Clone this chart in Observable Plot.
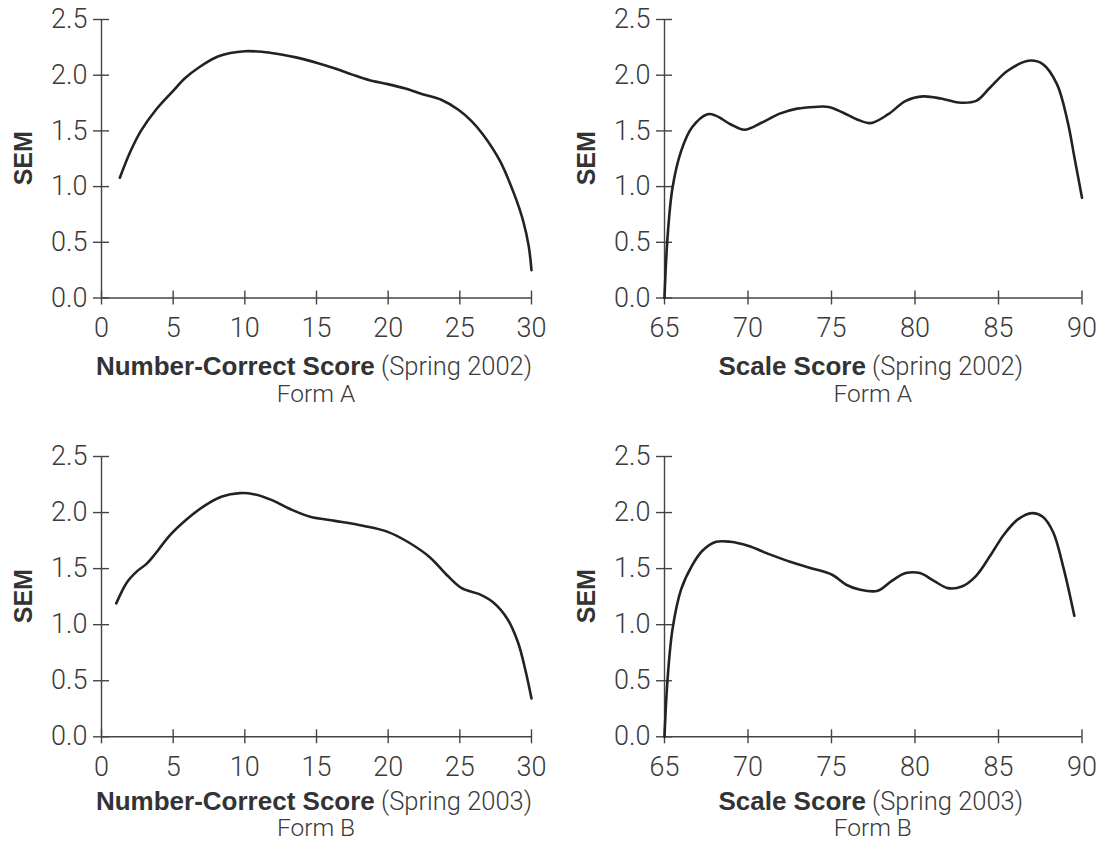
<!DOCTYPE html>
<html>
<head>
<meta charset="utf-8">
<script src="https://cdn.jsdelivr.net/npm/d3@7"></script>
<script src="https://cdn.jsdelivr.net/npm/@observablehq/plot@0.6"></script>
<style>
  body { margin: 0; background: #fff; }
  #charts { position: relative; width: 1102px; height: 844px; }
  .panel { position: absolute; }
  .panel svg text { font-family: Roboto, "Liberation Sans", sans-serif; font-weight: 300; fill: #3a3a3a; }
  .panel svg text.bold, .panel svg tspan.bold { font-family: "Liberation Sans", Arial, sans-serif; font-weight: 700; fill: #333; }
</style>
</head>
<body>
<div id="charts"></div>
<script>
// Number-correct score, Spring 2002, Form A
const ncScoreA = [1.28, 2.0, 2.75, 3.8, 5.0, 5.8, 6.69, 8.16, 10.0, 11.85, 13.57, 15.05, 16.3, 17.5, 18.7, 19.97, 21.2, 22.4, 23.7, 24.9, 25.8, 26.6, 27.8, 28.8, 29.4, 29.8, 30.0];
const ncSemA   = [1.08, 1.31, 1.50, 1.69, 1.86, 1.97, 2.06, 2.17, 2.215, 2.20, 2.16, 2.11, 2.06, 2.005, 1.955, 1.92, 1.88, 1.83, 1.78, 1.69, 1.59, 1.47, 1.23, 0.93, 0.70, 0.47, 0.25];

// Scale score, Spring 2002, Form A
const ssScoreA = [65.0, 65.17, 65.48, 66.0, 66.64, 67.58, 68.1, 68.95, 69.79, 70.84, 71.9, 72.94, 74.0, 74.83, 75.67, 76.5, 77.35, 78.4, 79.45, 80.5, 81.56, 82.6, 83.66, 84.5, 85.55, 86.8, 87.65, 88.5, 89.13, 89.55, 90.0];
const ssSemA   = [0.0, 0.52, 0.99, 1.32, 1.53, 1.65, 1.635, 1.56, 1.51, 1.575, 1.655, 1.70, 1.715, 1.715, 1.665, 1.605, 1.57, 1.65, 1.77, 1.81, 1.79, 1.755, 1.77, 1.89, 2.04, 2.13, 2.10, 1.92, 1.59, 1.26, 0.90];

// Number-correct score, Spring 2003, Form B
const ncScoreB = [1.03, 1.77, 2.51, 3.12, 3.74, 4.72, 5.95, 7.18, 8.41, 9.64, 10.62, 11.85, 13.08, 14.56, 16.28, 18.24, 19.97, 21.44, 22.92, 24.15, 25.13, 26.36, 27.34, 28.33, 29.06, 29.56, 30.0];
const ncSemB   = [1.19, 1.377, 1.48, 1.54, 1.63, 1.79, 1.94, 2.06, 2.143, 2.173, 2.164, 2.113, 2.036, 1.962, 1.926, 1.882, 1.828, 1.733, 1.60, 1.436, 1.326, 1.272, 1.198, 1.049, 0.841, 0.603, 0.342];

// Scale score, Spring 2003, Form B
const ssScoreB = [65.0, 65.17, 65.48, 66.0, 66.64, 67.27, 68.1, 68.95, 70.0, 71.26, 72.52, 73.78, 75.04, 75.88, 76.72, 77.77, 78.61, 79.45, 80.29, 81.13, 81.97, 82.8, 83.66, 84.5, 85.34, 86.18, 87.0, 87.65, 88.28, 88.91, 89.54];
const ssSemB   = [0.0, 0.485, 0.96, 1.317, 1.525, 1.659, 1.739, 1.739, 1.703, 1.629, 1.561, 1.504, 1.445, 1.356, 1.311, 1.302, 1.391, 1.46, 1.46, 1.391, 1.326, 1.34, 1.436, 1.614, 1.807, 1.941, 1.995, 1.962, 1.822, 1.495, 1.079];

const semTicks = [0, 0.5, 1.0, 1.5, 2.0, 2.5];
const ncTicks = [0, 5, 10, 15, 20, 25, 30];
const ssTicks = [65, 70, 75, 80, 85, 90];

// Each panel sits in one quadrant of the page; the bottom row lifts its
// two title lines a little so they stay inside the page.
const panels = [
  {left: 0,   top: 0,   xs: ncScoreA, ys: ncSemA, domain: [0, 30],  ticks: ncTicks, mL: 101, mR: 20,   mT: 19, mB: 124.5,
   bold: "Number-Correct Score", light: " (Spring 2002)", form: "Form A", line1: 77.5, line2: 104},
  {left: 551, top: 0,   xs: ssScoreA, ys: ssSemA, domain: [65, 90], ticks: ssTicks, mL: 113, mR: 20.5, mT: 19, mB: 124.5,
   bold: "Scale Score", light: " (Spring 2002)", form: "Form A", line1: 77.5, line2: 104},
  {left: 0,   top: 422, xs: ncScoreB, ys: ncSemB, domain: [0, 30],  ticks: ncTicks, mL: 101, mR: 20,   mT: 34, mB: 107.7,
   bold: "Number-Correct Score", light: " (Spring 2003)", form: "Form B", line1: 73.5, line2: 100},
  {left: 551, top: 422, xs: ssScoreB, ys: ssSemB, domain: [65, 90], ticks: ssTicks, mL: 113, mR: 20.5, mT: 34, mB: 107.7,
   bold: "Scale Score", light: " (Spring 2003)", form: "Form B", line1: 73.5, line2: 100}
];

const axisColor = "#444";
const labelColor = "#3a3a3a";
const root = document.getElementById("charts");

for (const p of panels) {
  const rows = p.xs.map((x, i) => ({score: x, sem: p.ys[i]}));
  const chart = Plot.plot({
    width: 551,
    height: 422,
    marginLeft: p.mL,
    marginRight: p.mR,
    marginTop: p.mT,
    marginBottom: p.mB,
    style: {fontSize: "27px", background: "transparent", overflow: "visible"},
    x: {domain: p.domain},
    y: {domain: [0, 2.5]},
    marks: [
      // axis lines
      Plot.ruleX([p.domain[0]], {stroke: axisColor, strokeWidth: 1.4}),
      Plot.ruleY([0], {stroke: axisColor, strokeWidth: 1.4}),
      // tick marks crossing the axis lines
      Plot.axisX({ticks: p.ticks, tickSize: 14, dy: -7, fill: "none", stroke: axisColor, strokeWidth: 1.4, label: null}),
      Plot.axisY({ticks: semTicks, tickSize: 16, dx: 8, fill: "none", stroke: axisColor, strokeWidth: 1.4, label: null}),
      // tick labels
      Plot.axisX({ticks: p.ticks, tickSize: 0, tickPadding: 20, fontSize: 27, stroke: "none", fill: labelColor, label: null}),
      Plot.axisY({ticks: semTicks, tickSize: 0, tickPadding: 14, fontSize: 27, tickFormat: d3.format(".1f"), stroke: "none", fill: labelColor, label: null}),
      // SEM curve
      Plot.line(rows, {x: "score", y: "sem", curve: "catmull-rom", stroke: "#222", strokeWidth: 2.6})
    ]
  });

  const xScale = chart.scale("x");
  const yScale = chart.scale("y");
  const cx = (xScale.range[0] + xScale.range[1]) / 2;
  const axisY = yScale.range[0];
  const cy = (yScale.range[0] + yScale.range[1]) / 2;
  const svg = d3.select(chart);

  const t = svg.append("text")
    .attr("x", cx - 2).attr("y", axisY + p.line1)
    .attr("text-anchor", "middle")
    .style("font-size", "25.5px");
  t.append("tspan").attr("class", "bold").style("font-size", "26px").text(p.bold);
  t.append("tspan").text(p.light);

  svg.append("text")
    .attr("x", cx).attr("y", axisY + p.line2)
    .attr("text-anchor", "middle")
    .style("font-size", "24.5px")
    .text(p.form);

  svg.append("text")
    .attr("class", "bold")
    .attr("transform", `translate(${xScale.range[0] - 78},${cy}) rotate(-90)`)
    .attr("text-anchor", "middle")
    .attr("dy", "0.36em")
    .style("font-size", "25px")
    .text("SEM");

  const wrap = document.createElement("div");
  wrap.className = "panel";
  wrap.style.left = p.left + "px";
  wrap.style.top = p.top + "px";
  wrap.appendChild(chart);
  root.appendChild(wrap);
}
</script>
</body>
</html>
